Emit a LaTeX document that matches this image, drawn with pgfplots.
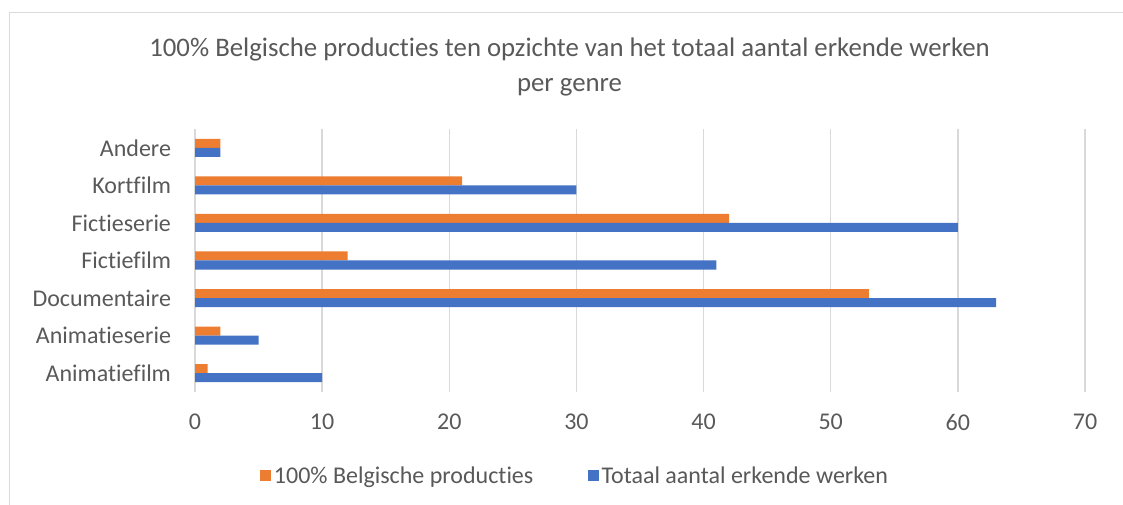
\documentclass[border=0pt]{standalone}
\usepackage{pgfplots}
\pgfplotsset{compat=1.18}
\usepackage{fontspec}
\setmainfont{Carlito}[Ligatures=NoCommon]
\definecolor{cOrange}{HTML}{ED7D31}
\definecolor{cBlue}{HTML}{4472C4}
\definecolor{cGrid}{HTML}{D9D9D9}
\definecolor{cText}{HTML}{595959}
\begin{document}
\begin{tikzpicture}
\useasboundingbox (0pt,0pt) rectangle (842.25pt,378.75pt);
\draw[cGrid, line width=1.1pt] (7.125pt,-20pt) -- (7.125pt,369.375pt) -- (900pt,369.375pt);
\coordinate (O) at (146.25pt,84.75pt);
\begin{axis}[
  at={(O)}, anchor=south west,
  scale only axis, width=667.5pt, height=197.25pt,
  xmin=0, xmax=70, ymin=-0.5, ymax=6.5,
  xtick={0,10,...,70},
  ytick={0,...,6},
  yticklabels={Animatiefilm,Animatieserie,Documentaire\ ,Fictiefilm\ ,Fictieserie,Kortfilm\ ,Andere},
  xbar, bar width=0.24,
  xmajorgrids, grid style={cGrid, line width=1pt},
  axis x line*=bottom, axis y line*=left,
  x axis line style={draw=none},
  y axis line style={draw=cGrid, line width=1pt},
  major tick length=0pt,
  tick label style={font=\fontsize{18}{20}\selectfont, text=cText},
  /pgf/number format/assume math mode=true,
  xticklabel style={yshift=-13pt},
  yticklabel style={xshift=-14.5pt},
  title={100\% Belgische producties ten opzichte van het totaal aantal erkende werken\\per genre},
  title style={at={(0.4208,1.205)}, anchor=center, align=center, font=\fontsize{20.1}{26.5}\selectfont, text=cText},
  legend style={at={(0.4275,-0.32)}, anchor=center, draw=none, legend columns=2, font=\fontsize{18}{20}\selectfont, text=cText,
    /tikz/every even column/.append style={column sep=39pt}},
  legend image code/.code={\fill[#1] (-1.5pt,-3.6pt) rectangle (6.75pt,4.6pt);},
]
\addplot[draw=none, fill=cOrange, bar shift=0.12] coordinates {(1,0) (2,1) (53,2) (12,3) (42,4) (21,5) (2,6)};
\addlegendentry{100\% Belgische producties}
\addplot[draw=none, fill=cBlue, bar shift=-0.12] coordinates {(10,0) (5,1) (63,2) (41,3) (60,4) (30,5) (2,6)};
\addlegendentry{Totaal aantal erkende werken}
\end{axis}
\end{tikzpicture}
\end{document}
